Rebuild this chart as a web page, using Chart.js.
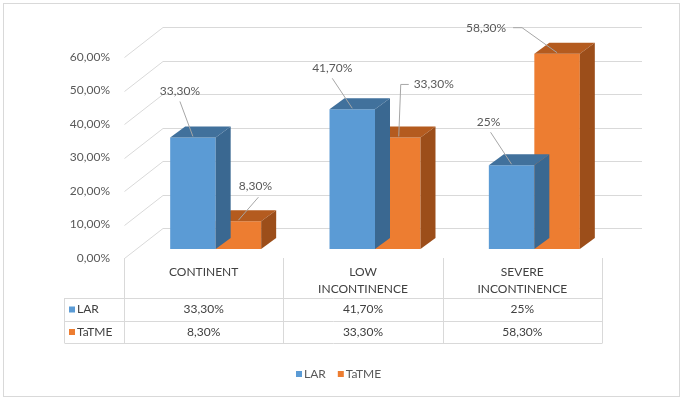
<!DOCTYPE html>
<html>
<head>
<meta charset="utf-8">
<script src="https://cdn.jsdelivr.net/npm/chart.js@4.4.0/dist/chart.umd.min.js"></script>
<style>
  html, body { margin: 0; padding: 0; background: #fff; }
  #wrap { width: 685px; height: 399px; }
</style>
</head>
<body>
<div id="wrap"><canvas id="chart" width="685" height="399"></canvas></div>
<script>
// data
const categories = [['CONTINENT'], ['LOW', 'INCONTINENCE'], ['SEVERE', 'INCONTINENCE']];
const seriesNames = ['LAR', 'TaTME'];
const larValues = [33.3, 41.7, 25];
const tatmeValues = [8.3, 33.3, 58.3];
const larLabels = ['33,30%', '41,70%', '25%'];
const tatmeLabels = ['8,30%', '33,30%', '58,30%'];
const yTicks = [0, 10, 20, 30, 40, 50, 60];

// look
const FONT = '12px Lato';
const frontColors = ['#5B9BD5', '#ED7D31'];
const topColors = ['#41719C', '#B45B1F'];
const sideColors = ['#3A6891', '#9C4E1A'];
const GRID = '#D9D9D9';
const DEPTH = { dx: 15, dy: -11 };     // bar depth
const FRONT = { dx: -12, dy: 9 };      // front plane vs bar plane
const BACK = { dx: 27, dy: -21 };      // back wall vs bar plane

// where each data label sits, relative to the bar's top centre
const labelSpots = [
  [ { at: [-13, -46], line: [[-13, -36], [0, -1]] },
    { at: [-20, -41], line: [[-20, -31], [0, -1]] },
    { at: [-23, -43], line: [[-21, -33], [0, -1]] } ],
  [ { at: [17, -35], line: [[20, -24], [0, -1]] },
    { at: [36, -53], line: [[11, -53], [3, -53], [1, -1]] },
    { at: [-71, -26], line: [[-44, -26], [-35, -26], [0, -1]] } ]
];
const valueLabels = [larLabels, tatmeLabels];

function pct(v) { return v.toFixed(2).replace('.', ',') + '%'; }

function poly(ctx, pts, color) {
  ctx.beginPath();
  ctx.moveTo(pts[0][0], pts[0][1]);
  for (let i = 1; i < pts.length; i++) ctx.lineTo(pts[i][0], pts[i][1]);
  ctx.closePath();
  ctx.fillStyle = color;
  ctx.fill();
}

const excel3d = {
  id: 'excel3d',
  beforeDatasetsDraw(chart) {
    const ctx = chart.ctx, y = chart.scales.y, a = chart.chartArea;
    ctx.save();
    ctx.strokeStyle = GRID;
    ctx.lineWidth = 1;
    ctx.font = FONT;
    ctx.fillStyle = '#595959';
    ctx.textAlign = 'right';
    ctx.textBaseline = 'middle';
    yTicks.forEach(function(t) {
      const py = y.getPixelForValue(t);
      ctx.beginPath();
      ctx.moveTo(a.left + FRONT.dx + 0.5, Math.round(py + FRONT.dy) + 0.5);
      ctx.lineTo(a.left + BACK.dx, Math.round(py + BACK.dy) + 0.5);
      ctx.lineTo(a.right + BACK.dx + 1, Math.round(py + BACK.dy) + 0.5);
      ctx.stroke();
      ctx.fillText(pct(t), a.left + FRONT.dx - 14, py + FRONT.dy);
    });
    ctx.restore();
  },
  afterDatasetDraw(chart, args) {
    const ctx = chart.ctx, i = args.index;
    ctx.save();
    chart.getDatasetMeta(i).data.forEach(function(bar) {
      const p = bar.getProps(['x', 'y', 'base', 'width'], true);
      const l = p.x - p.width / 2, r = p.x + p.width / 2;
      poly(ctx, [[l, p.y], [r, p.y], [r + DEPTH.dx, p.y + DEPTH.dy], [l + DEPTH.dx, p.y + DEPTH.dy]], topColors[i]);
      poly(ctx, [[r, p.y], [r + DEPTH.dx, p.y + DEPTH.dy], [r + DEPTH.dx, p.base + DEPTH.dy], [r, p.base]], sideColors[i]);
    });
    ctx.restore();
  },
  afterDatasetsDraw(chart) {
    const ctx = chart.ctx, a = chart.chartArea, xs = chart.scales.x;
    ctx.save();
    ctx.font = FONT;

    // data labels with leader lines
    ctx.strokeStyle = '#A6A6A6';
    ctx.lineWidth = 1;
    ctx.fillStyle = '#595959';
    ctx.textAlign = 'center';
    ctx.textBaseline = 'middle';
    [0, 1].forEach(function(i) {
      chart.getDatasetMeta(i).data.forEach(function(bar, j) {
        const p = bar.getProps(['x', 'y'], true);
        const s = labelSpots[i][j];
        ctx.beginPath();
        s.line.forEach(function(q, k) {
          const fx = p.x + q[0], fy = p.y + q[1];
          if (k === 0) ctx.moveTo(fx, fy); else ctx.lineTo(fx, fy);
        });
        ctx.stroke();
        ctx.fillText(valueLabels[i][j], p.x + s.at[0], p.y + s.at[1]);
      });
    });

    // data table
    const floor = Math.round(a.bottom + FRONT.dy);
    const colW = (a.right - a.left) / categories.length;
    const tLeft = 64, rowTop = floor + 40, rowH = 22.5;
    const bounds = [];
    for (let c = 0; c <= categories.length; c++) bounds.push(Math.round(a.left + FRONT.dx + c * colW) + 0.5);
    ctx.strokeStyle = GRID;
    ctx.beginPath();
    bounds.forEach(function(bx) { ctx.moveTo(bx, floor); ctx.lineTo(bx, rowTop + 2 * rowH); });
    for (let r = 0; r <= 2; r++) {
      const ry = Math.round(rowTop + r * rowH) + 0.5;
      ctx.moveTo(tLeft + 0.5, ry);
      ctx.lineTo(bounds[bounds.length - 1], ry);
    }
    ctx.moveTo(tLeft + 0.5, rowTop);
    ctx.lineTo(tLeft + 0.5, rowTop + 2 * rowH);
    ctx.stroke();

    ctx.fillStyle = '#404040';
    categories.forEach(function(lines, c) {
      const cx = a.left + FRONT.dx + (c + 0.5) * colW;
      lines.forEach(function(txt, k) { ctx.fillText(txt, cx, floor + 14 + k * 17); });
      valueLabels.forEach(function(vals, r) { ctx.fillText(vals[c], cx, rowTop + r * rowH + 11.5); });
    });
    ctx.textAlign = 'left';
    seriesNames.forEach(function(name, r) {
      const cy = rowTop + r * rowH + 11.5;
      ctx.fillStyle = frontColors[r];
      ctx.fillRect(tLeft + 5, cy - 3, 6, 6);
      ctx.fillStyle = '#404040';
      ctx.fillText(name, tLeft + 13, cy);
    });

    // legend
    let lx = 296;
    const ly = 374;
    seriesNames.forEach(function(name, r) {
      ctx.fillStyle = frontColors[r];
      ctx.fillRect(lx, ly - 3, 6, 6);
      ctx.fillStyle = '#595959';
      ctx.fillText(name, lx + 8, ly);
      lx += 8 + ctx.measureText(name).width + 12;
    });

    // outer frame
    ctx.strokeStyle = GRID;
    ctx.strokeRect(3.5, 3.5, 676, 393);
    ctx.restore();
  }
};

const ctx = document.getElementById('chart').getContext('2d');
new Chart(ctx, {
  type: 'bar',
  data: {
    labels: categories,
    datasets: [
      { label: seriesNames[0], data: larValues, backgroundColor: frontColors[0] },
      { label: seriesNames[1], data: tatmeValues, backgroundColor: frontColors[1] }
    ]
  },
  options: {
    responsive: false,
    animation: false,
    events: [],
    layout: { padding: { left: 136, right: 71, top: 48, bottom: 150 } },
    datasets: { bar: { categoryPercentage: 0.571, barPercentage: 1, borderWidth: 0 } },
    scales: {
      x: { display: false },
      y: { display: false, min: 0, max: 60 }
    },
    plugins: { legend: { display: false }, tooltip: { enabled: false } }
  },
  plugins: [excel3d]
});
</script>
</body>
</html>
